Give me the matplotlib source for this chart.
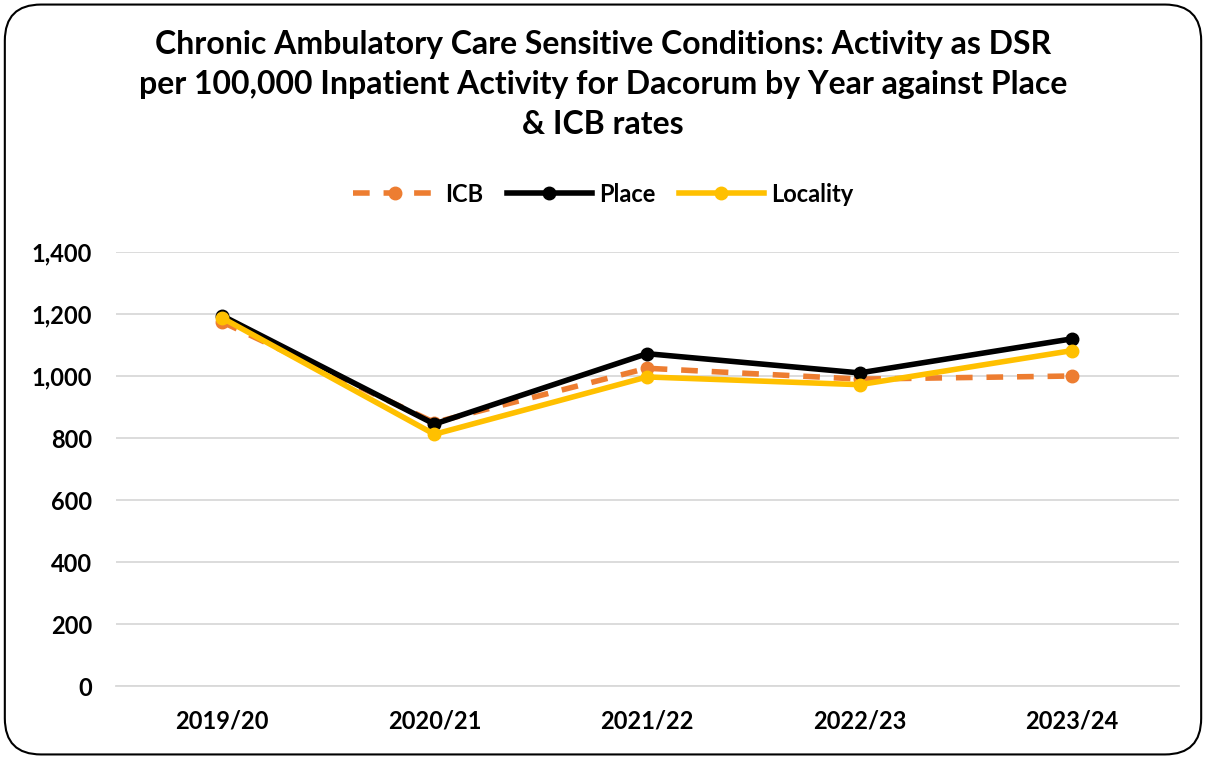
import matplotlib.pyplot as plt
from matplotlib.patches import FancyBboxPatch

plt.rcParams['font.family'] = ['Lato', 'DejaVu Sans']

years = ['2019/20', '2020/21', '2021/22', '2022/23', '2023/24']
icb = [1175, 850, 1025, 990, 1000]
place = [1195, 845, 1072, 1010, 1120]
locality = [1188, 812, 997, 972, 1082]

fig = plt.figure(figsize=(12.06, 7.59), dpi=100)
ax = fig.add_axes([115.5 / 1206, (759 - 686) / 759, 1063 / 1206, 434 / 759])

x = range(len(years))
ax.plot(x, icb, color='#ED7D31', lw=4, ls=(0, (3, 2.5)), marker='o', ms=9, label='ICB', zorder=3)
ax.plot(x, place, color='black', lw=4, marker='o', ms=9, label='Place', zorder=4)
ax.plot(x, locality, color='#FFC000', lw=4, marker='o', ms=9, label='Locality', zorder=5)

ax.set_xlim(-0.5, len(years) - 0.5)
ax.set_ylim(0, 1400)
ax.set_yticks(range(0, 1401, 200))
ax.set_yticklabels([f'{v:,}' for v in range(0, 1401, 200)])
ax.set_xticks(list(x))
ax.set_xticklabels(years)
ax.grid(axis='y', color='#D9D9D9', lw=1.3)
ax.set_axisbelow(True)
for s in ['top', 'right', 'left']:
    ax.spines[s].set_visible(False)
ax.spines['bottom'].set_color('#D9D9D9')
ax.spines['bottom'].set_linewidth(1.3)
ax.tick_params(length=0, labelsize=17, pad=17)
for lab in ax.get_xticklabels() + ax.get_yticklabels():
    lab.set_fontweight('bold')

fig.text(0.5, 0.96, 'Chronic Ambulatory Care Sensitive Conditions: Activity as DSR\n'
         'per 100,000 Inpatient Activity for Dacorum by Year against Place\n& ICB rates',
         ha='center', va='top', fontsize=23, fontweight='bold', linespacing=1.45)

leg = fig.legend(loc='center', bbox_to_anchor=(0.5, 1 - 194 / 759), ncol=3, frameon=False,
                 handlelength=3.6, columnspacing=1.0, handletextpad=0.3,
                 prop={'weight': 'bold', 'size': 17})

border = FancyBboxPatch((0.004, 0.006), 0.992, 0.988, boxstyle='round,pad=0,rounding_size=0.03',
                        transform=fig.transFigure, fill=False, ec='black', lw=1.5,
                        mutation_aspect=1206 / 759)
fig.patches.append(border)

fig.savefig('out.png', dpi=100)
